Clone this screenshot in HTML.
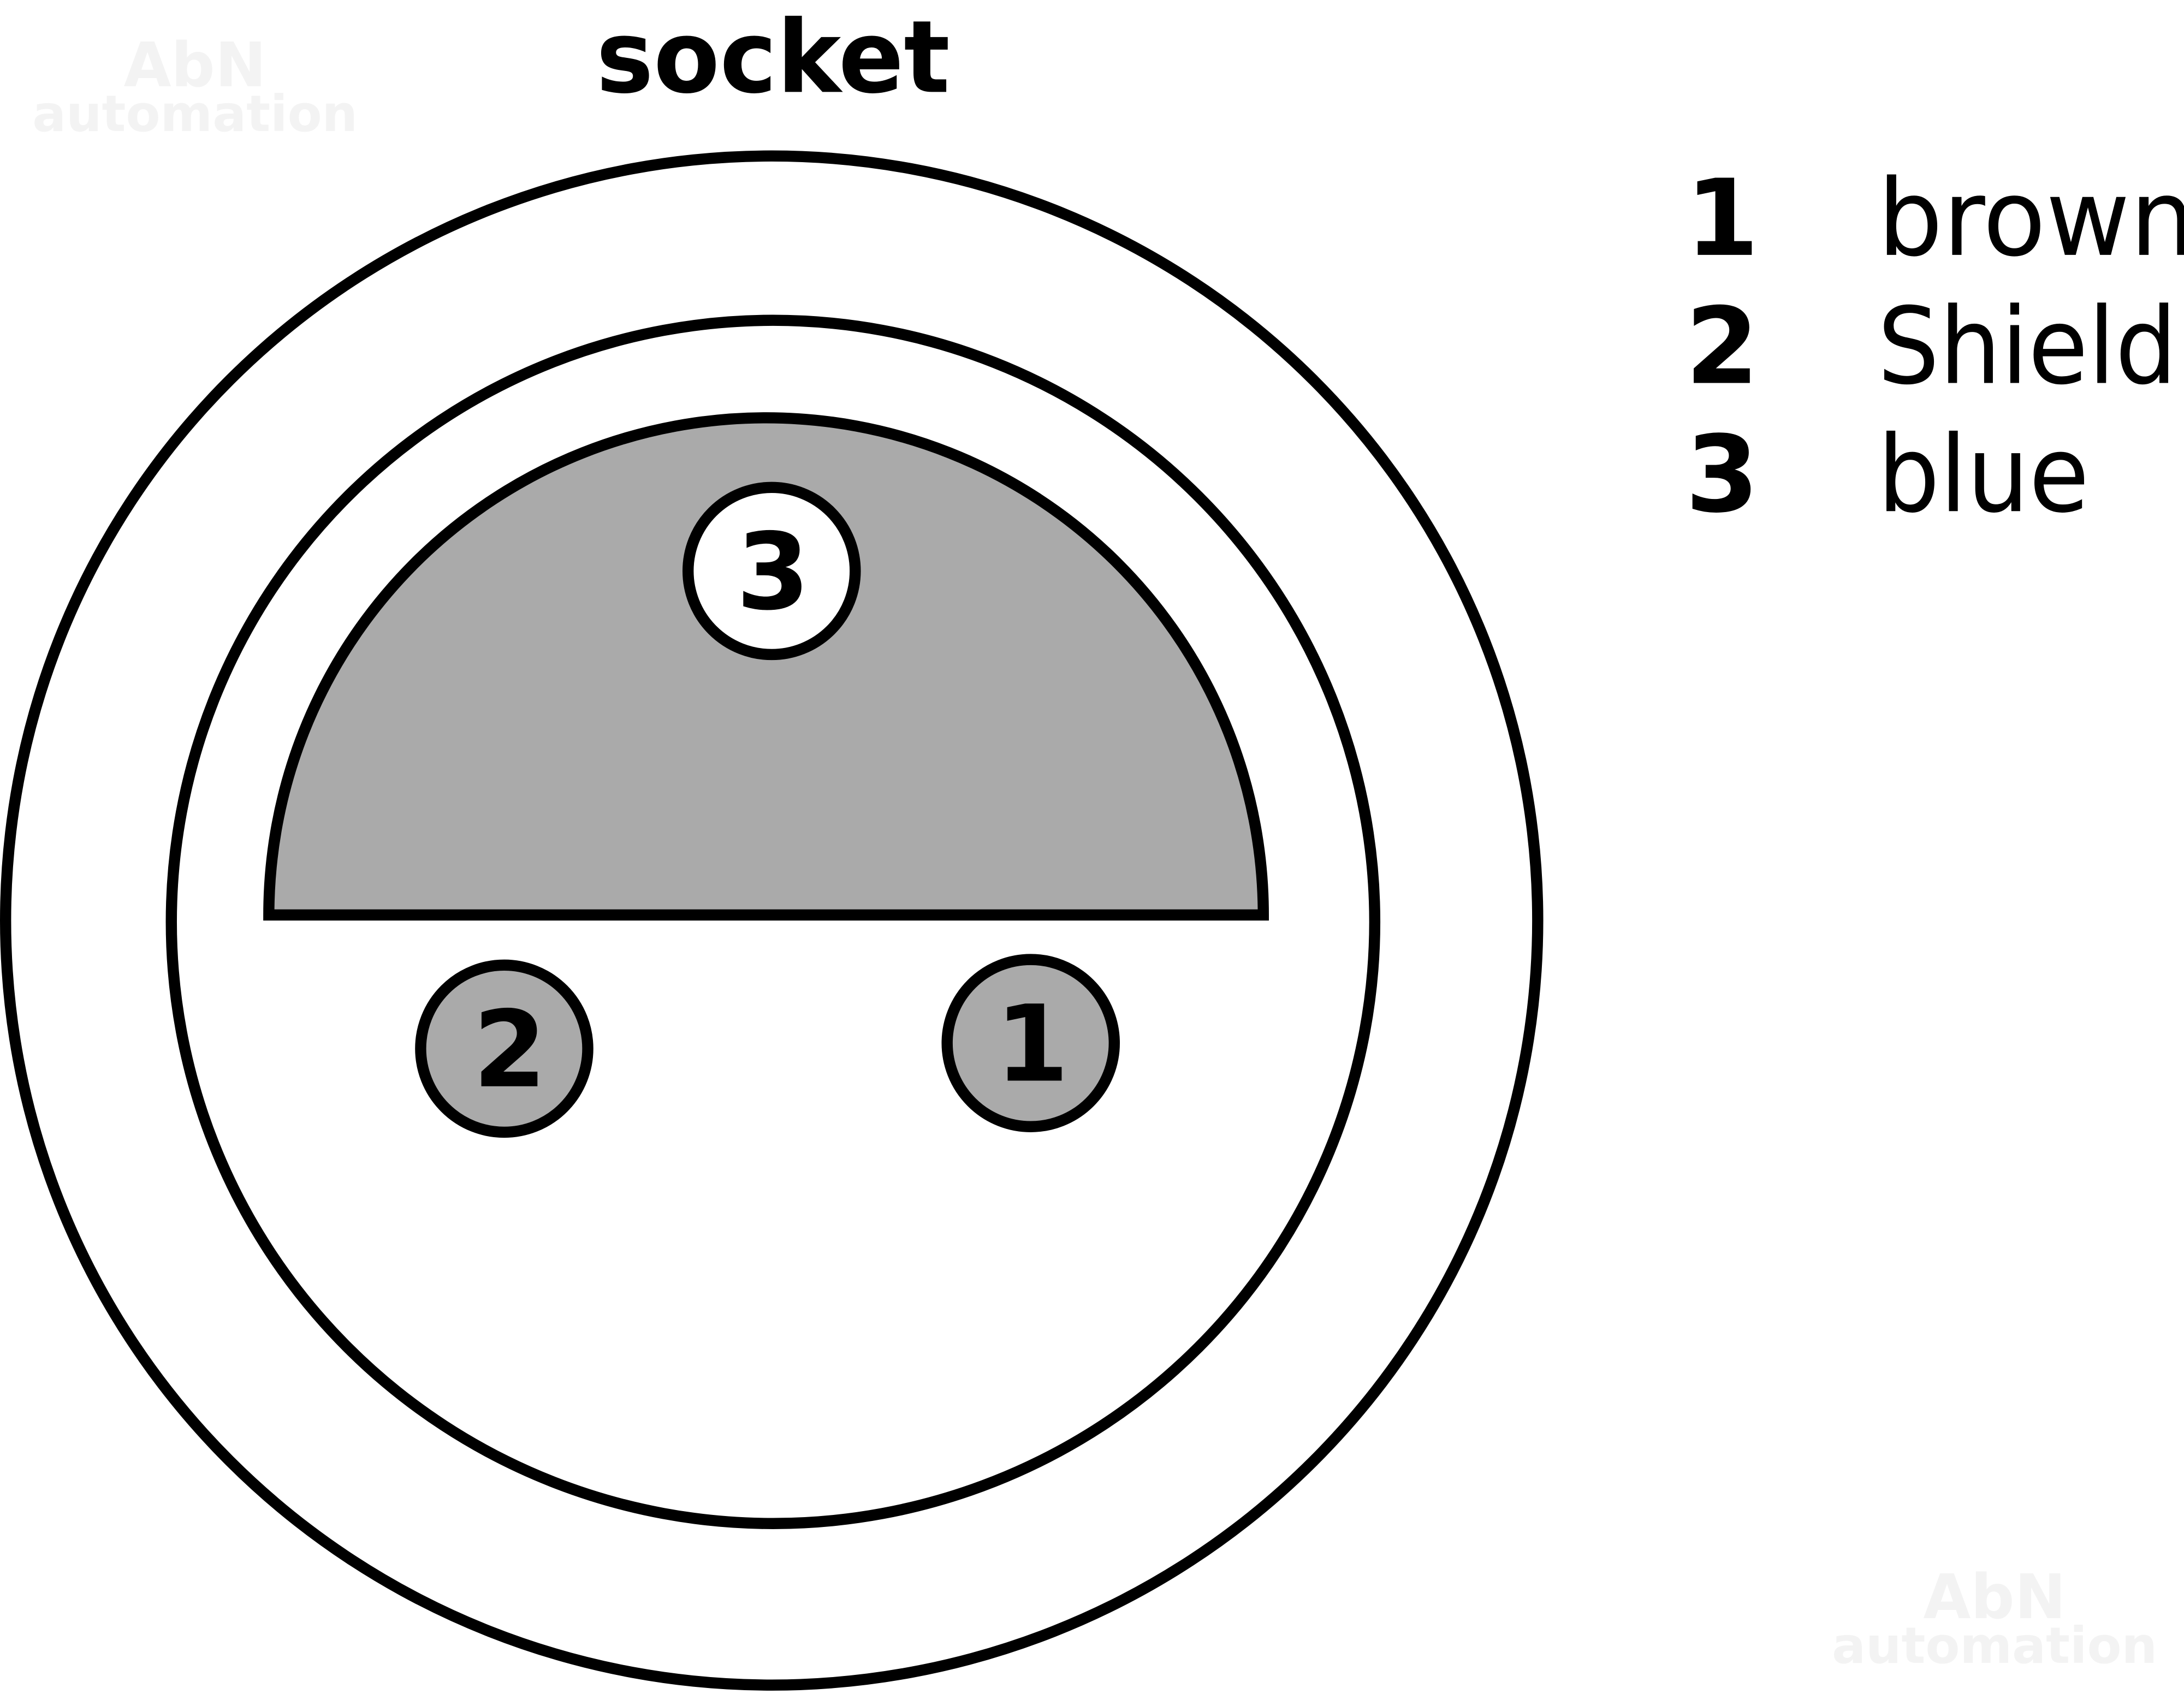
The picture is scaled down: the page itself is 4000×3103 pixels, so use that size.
<!DOCTYPE html>
<html><head><meta charset="utf-8"><style>
html,body{margin:0;padding:0;background:#fff;}
svg{display:block;}
</style></head><body>
<svg width="4000" height="3103" viewBox="0 0 1568 1216.4" preserveAspectRatio="none" xmlns="http://www.w3.org/2000/svg">
<rect width="1568" height="1217" fill="#fff"/>
<g font-family="DejaVu Sans, Liberation Sans, sans-serif" font-weight="bold" fill="#f3f3f3">
<text x="140" y="62" font-size="44" text-anchor="middle">AbN</text>
<text x="140" y="94" font-size="36" text-anchor="middle">automation</text>
<text x="1432" y="1162" font-size="44" text-anchor="middle">AbN</text>
<text x="1432" y="1194" font-size="36" text-anchor="middle">automation</text>
</g>
<text x="555" y="66" font-family="DejaVu Sans, Liberation Sans, sans-serif" font-weight="bold" font-size="72" text-anchor="middle" textLength="254" lengthAdjust="spacingAndGlyphs">socket</text>
<ellipse cx="554" cy="661" rx="550" ry="549" fill="none" stroke="#000" stroke-width="8"/>
<circle cx="555" cy="662" r="432" fill="none" stroke="#000" stroke-width="8"/>
<path d="M193 657 A357 357 0 0 1 907 657 Z" fill="#aaa" stroke="#000" stroke-width="8" stroke-linejoin="miter"/>
<circle cx="554" cy="410" r="60" fill="#fff" stroke="#000" stroke-width="8"/>
<circle cx="362" cy="753" r="60" fill="#aaa" stroke="#000" stroke-width="8"/>
<circle cx="740" cy="749" r="60" fill="#aaa" stroke="#000" stroke-width="8"/>
<g font-family="DejaVu Sans, Liberation Sans, sans-serif" font-weight="bold" font-size="76" text-anchor="middle">
<text x="555" y="437">3</text>
<text x="366" y="780">2</text>
<text x="741" y="776">1</text>
</g>
<g font-family="DejaVu Sans, Liberation Sans, sans-serif" font-size="76">
<text x="1210" y="183" font-weight="bold">1</text>
<text x="1210" y="275" font-weight="bold">2</text>
<text x="1210" y="367" font-weight="bold">3</text>
<text x="1348" y="183" textLength="228" lengthAdjust="spacingAndGlyphs">brown</text>
<text x="1348" y="275" textLength="215" lengthAdjust="spacingAndGlyphs">Shield</text>
<text x="1348" y="367" textLength="152" lengthAdjust="spacingAndGlyphs">blue</text>
</g>
</svg>
</body></html>
